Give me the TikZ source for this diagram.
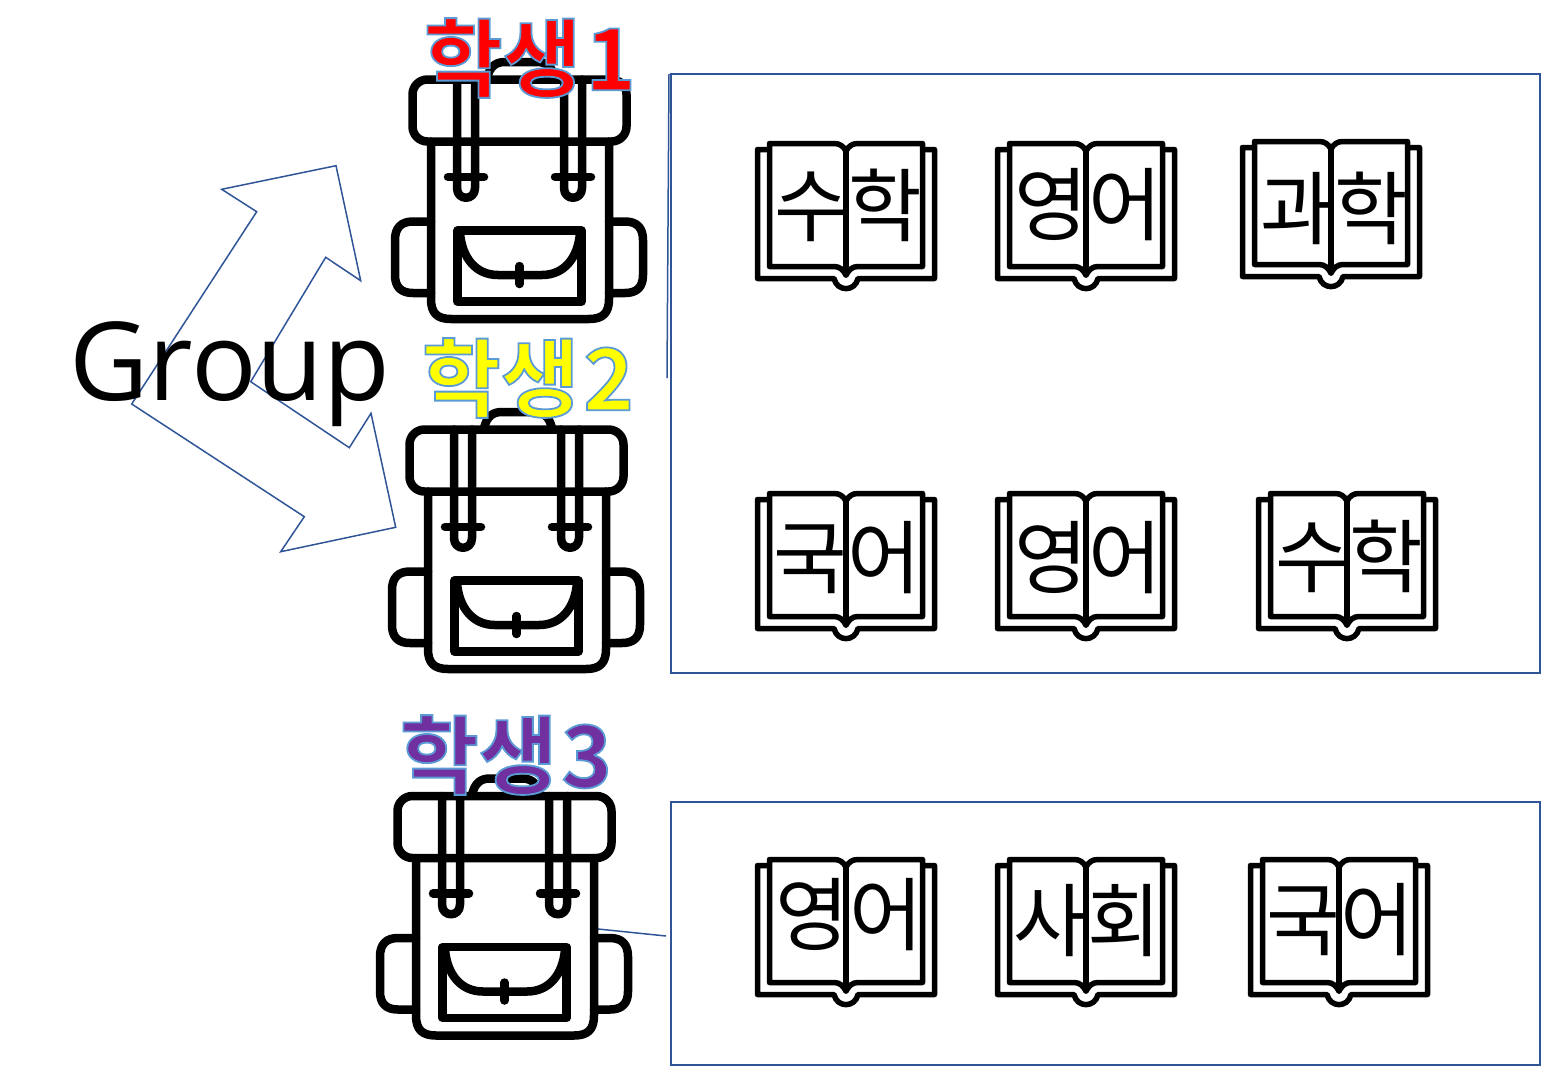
\documentclass[tikz,border=0pt]{standalone}
\usepackage{fontspec}
\newfontfamily\krfont{Noto Sans CJK KR}
\newfontfamily\krbold{Noto Sans CJK KR Bold}
\newfontfamily\grpfont{Open Sans}
\definecolor{bluel}{HTML}{2F5597}
\definecolor{labred}{HTML}{FF0000}
\definecolor{labyel}{HTML}{FFFF00}
\definecolor{labpur}{HTML}{7030A0}
\newcommand{\outlined}[3]{\textcolor{#1}{\special{pdf:code q 2 Tr 0.9 w 0.357 0.608 0.835 RG}#2\kern2pt #3\special{pdf:code Q}}}
\tikzset{
  x=0.5pt,y=-0.5pt,
  blueline/.style={draw=bluel,line width=0.75pt},
  panelbox/.style={draw=bluel,line width=0.75pt,fill=none,rectangle,inner sep=0pt,anchor=north west},
  booktext/.style={font=\krfont\fontsize{40pt}{40pt}\selectfont,text=black,inner sep=0pt},
  studentlabel/.style={font=\krbold\fontsize{42.8pt}{42.8pt}\selectfont,inner sep=0pt},
  bagicon/.pic={
    \begin{scope}[line width=4.25pt,line join=round,line cap=round,draw=black]
      \draw (487,78) .. controls (490,66) and (496,62) .. (505,62) -- (537,62) .. controls (546,62) and (552,66) .. (555,78);
      \draw (431,141.5) -- (431,299) .. controls (431,313) and (437,319) .. (451,319) -- (589,319) .. controls (603,319) and (609,313) .. (609,299) -- (609,141.5);
      \draw[rounded corners=7.5pt] (412.5,79.5) rectangle (626.5,141.5);
      \draw (457,79.5) -- (457,188) .. controls (457,201) and (475,201) .. (475,188) -- (475,79.5);
      \draw (564,79.5) -- (564,188) .. controls (564,201) and (582,201) .. (582,188) -- (582,79.5);
      \draw (448,177) -- (484,177);
      \draw (555,177) -- (591,177);
      \draw (431,221.5) -- (413,221.5) .. controls (401,221.5) and (395,228) .. (395,240) -- (395,275) .. controls (395,287) and (401,293) .. (413,293) -- (431,293);
      \draw (609,221.5) -- (625,221.5) .. controls (637,221.5) and (643,228) .. (643,240) -- (643,275) .. controls (643,287) and (637,293) .. (625,293) -- (609,293);
      \draw (457.5,230.5) rectangle (581.5,301.5);
      \draw (460,233) .. controls (462,258) and (476,275) .. (498,275) -- (542,275) .. controls (564,275) and (578,258) .. (580,233);
      \draw (519.5,266) -- (519.5,284);
    \end{scope}
  },
  bookicon/.pic={
    \begin{scope}[line width=2.75pt,line join=round,line cap=round,draw=black]
      \draw (767,149.5) -- (757.5,149.5) -- (757.5,278.5) -- (834,278.5) .. controls (837,292) and (855,292) .. (858,278.5) -- (934.5,278.5) -- (934.5,149.5) -- (925,149.5);
      \draw (846,151) .. controls (843,146) and (840,143.5) .. (834,143.5) -- (769.5,143.5) -- (769.5,266.5) -- (834,266.5) .. controls (840,266.5) and (843,270) .. (846,275) .. controls (849,270) and (852,266.5) .. (858,266.5) -- (922.5,266.5) -- (922.5,143.5) -- (858,143.5) .. controls (852,143.5) and (849,146) .. (846,151) -- cycle;
      \draw (846,151) -- (846,275);
    \end{scope}
  }
}
\begin{document}
\begin{tikzpicture}
\useasboundingbox (0,0) rectangle (1554,1066);
% panels
\node[panelbox,minimum width=434.5pt,minimum height=299.5pt] (panelA) at (670,73) {};
\node[panelbox,minimum width=434.5pt,minimum height=131.5pt] (panelB) at (670,801) {};
\coordinate (linkAtop) at (669,74);
\coordinate (linkAbot) at (667,378);
\coordinate (linkBbag) at (598,929);
\coordinate (linkBbox) at (666,936);
\draw[blueline] (linkAtop) -- (linkAbot);
\draw[blueline] (linkBbag) -- (linkBbox);
% branching arrow
\draw[blueline,line join=miter] (131.7,404) -- (256.7,211.7) -- (221.7,189.3) -- (336,165.7) -- (360.7,280.7) -- (325.7,257.3) -- (250.7,381.7) -- (349.3,447.7) -- (371,413.3) -- (395.7,527.3) -- (280.7,551.7) -- (304.3,516.7) -- cycle;
\node[font=\grpfont\fontsize{54.5pt}{54.5pt}\selectfont,inner sep=0pt,anchor=base] (grp) at (230,400) {Group};
% bags
\pic at (0,0) {bagicon};
\pic at (-3,350) {bagicon};
\pic at (-15,716.5) {bagicon};
% student labels
\node[studentlabel] (s1) at (530,58) {\outlined{labred}{학생}{1}};
\node[studentlabel] (s2) at (528,378) {\outlined{labyel}{학생}{2}};
\node[studentlabel] (s3) at (506,755) {\outlined{labpur}{학생}{3}};
% books
\pic at (0,0) {bookicon};
\pic at (240,0) {bookicon};
\pic at (485,-2) {bookicon};
\pic at (0,350) {bookicon};
\pic at (240,350) {bookicon};
\pic at (501,350) {bookicon};
\pic at (0,716) {bookicon};
\pic at (240,716) {bookicon};
\pic at (493,716) {bookicon};
\node[booktext] (t1) at (848,205) {수학};
\node[booktext] (t2) at (1088,205) {영어};
\node[booktext] (t3) at (1334,208) {과학};
\node[booktext] (t4) at (847,558) {국어};
\node[booktext] (t5) at (1088,558) {영어};
\node[booktext] (t6) at (1349,556) {수학};
\node[booktext] (t7) at (849,915) {영어};
\node[booktext] (t8) at (1087,921) {사회};
\node[booktext] (t9) at (1340,920) {국어};
\end{tikzpicture}
\end{document}
